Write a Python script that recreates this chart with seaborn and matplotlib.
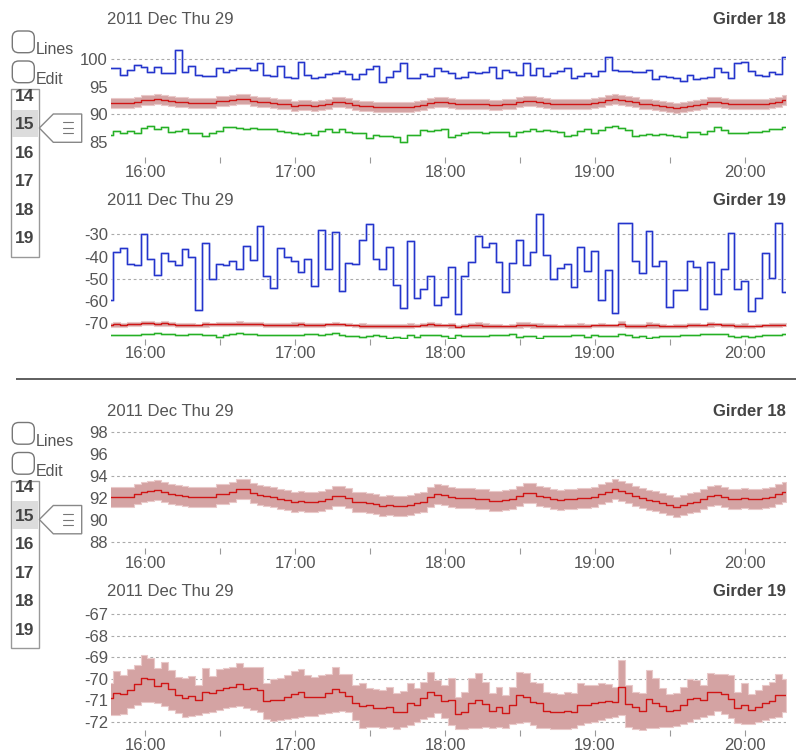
import numpy as np
import pandas as pd
import matplotlib
matplotlib.use("Agg")
import matplotlib.pyplot as plt
import matplotlib.patheffects as pe
from matplotlib.patches import FancyBboxPatch, Rectangle, Polygon
import seaborn as sns

# ---------------------------------------------------------------- data
# readings are sampled on a regular grid (hour of day as a float)
FIRST_STEP_HOUR = 15.7433
STEP_HOURS = 0.0455
X_MIN, X_MAX = 15.7733, 20.2733

DATE_LABEL = "2011 Dec Thu 29"
HOUR_TICKS = [16, 17, 18, 19, 20]
HOUR_LABELS = ["16:00", "17:00", "18:00", "19:00", "20:00"]
HALF_HOUR_TICKS = [16.5, 17.5, 18.5, 19.5]

G18_BLUE = [98.3, 98.3, 97.1, 98.0, 99.0, 98.6, 97.7, 98.6, 97.5, 97.4,
            101.6, 97.6, 98.7, 97.1, 96.9, 96.9, 98.3, 97.7, 98.0, 98.3,
            98.3, 98.1, 99.2, 97.1, 96.9, 98.7, 96.7, 96.6, 99.4, 97.1,
            96.5, 96.7, 97.3, 97.5, 97.9, 97.3, 96.4, 97.3, 98.2, 98.8,
            95.9, 96.7, 97.8, 99.3, 96.5, 96.5, 97.3, 97.0, 98.3, 97.9,
            97.5, 96.6, 96.8, 97.7, 97.4, 97.7, 98.6, 96.6, 98.0, 97.7,
            97.1, 99.2, 97.1, 98.3, 97.0, 97.5, 97.8, 98.4, 96.6, 96.9,
            97.4, 96.9, 97.8, 100.4, 98.0, 97.9, 97.8, 97.7, 97.6, 98.0,
            96.3, 97.0, 96.8, 96.5, 96.1, 97.1, 96.3, 96.5, 96.8, 98.3,
            97.7, 96.6, 99.3, 99.4, 97.8, 97.1, 96.9, 97.6, 97.3, 100.4]

G18_GREEN = [86.27, 87.05, 86.57, 86.99, 86.69, 87.47, 87.95, 87.29, 87.65, 86.87,
             87.05, 87.29, 86.69, 86.57, 86.08, 86.57, 86.99, 87.65, 87.70, 87.50,
             87.41, 87.47, 87.29, 87.35, 87.29, 87.05, 86.75, 86.57, 86.39, 86.57,
             86.20, 86.99, 87.29, 86.87, 87.29, 86.75, 86.57, 86.57, 85.78, 86.27,
             86.08, 86.14, 85.96, 85.06, 86.27, 86.27, 87.17, 87.05, 87.17, 87.35,
             85.96, 86.27, 86.69, 86.87, 86.87, 86.69, 86.87, 86.87, 86.87, 86.08,
             86.87, 87.05, 87.29, 86.99, 87.17, 86.99, 86.75, 86.14, 86.27, 86.99,
             87.35, 86.57, 87.17, 87.65, 87.90, 87.47, 87.17, 86.08, 86.27, 86.39,
             86.27, 86.45, 86.27, 86.14, 85.96, 86.75, 86.75, 86.39, 87.05, 87.65,
             87.17, 86.69, 86.69, 86.57, 86.75, 86.87, 86.99, 87.41, 87.29, 87.77]

G18_RED = [92.09, 92.09, 92.09, 92.09, 92.30, 92.55, 92.64, 92.70, 92.55, 92.33,
           92.24, 92.15, 92.09, 92.03, 92.09, 92.09, 92.33, 92.33, 92.55, 92.76,
           92.76, 92.39, 92.24, 92.18, 92.03, 91.88, 91.79, 91.58, 91.67, 91.64,
           91.58, 91.73, 91.85, 92.15, 92.18, 92.00, 91.64, 91.58, 91.48, 91.39,
           91.24, 91.33, 91.24, 91.24, 91.33, 91.55, 91.64, 92.09, 92.30, 92.24,
           92.03, 91.94, 91.94, 91.94, 91.91, 91.88, 91.70, 91.70, 91.79, 91.85,
           92.18, 92.39, 92.39, 92.15, 92.03, 91.88, 91.79, 91.85, 91.88, 91.94,
           91.94, 92.03, 92.30, 92.55, 92.76, 92.61, 92.39, 92.15, 91.94, 91.79,
           91.70, 91.48, 91.33, 91.18, 91.33, 91.55, 91.64, 91.85, 92.18, 92.24,
           92.09, 91.85, 91.88, 91.94, 91.91, 91.91, 91.94, 92.03, 92.30, 92.55]
G18_SPREAD = 0.9

G19_BLUE = [-59.8, -37.9, -36.1, -43.2, -43.6, -30.0, -41.0, -48.2, -38.6, -41.8,
            -44.0, -36.4, -40.2, -64.0, -34.0, -50.2, -43.2, -44.0, -42.0, -45.6,
            -35.3, -41.7, -26.0, -48.6, -54.4, -36.0, -40.0, -42.1, -47.0, -41.0,
            -53.2, -28.0, -45.5, -28.8, -55.6, -43.0, -43.2, -32.6, -25.5, -41.0,
            -45.6, -35.6, -52.7, -63.3, -32.9, -58.6, -54.7, -48.6, -61.7, -58.3,
            -44.7, -65.9, -48.6, -42.3, -30.6, -35.5, -33.8, -42.6, -55.8, -43.0,
            -32.6, -43.6, -38.0, -20.6, -39.4, -50.2, -45.2, -43.2, -53.8, -35.6,
            -46.4, -37.7, -59.4, -46.1, -65.5, -24.7, -25.0, -41.8, -47.4, -28.5,
            -44.4, -42.0, -63.0, -55.2, -55.2, -42.1, -44.7, -63.5, -42.3, -56.8,
            -45.6, -29.2, -54.5, -51.0, -64.8, -58.5, -38.2, -49.8, -25.0, -56.2]

G19_GREEN = [-75.28, -75.28, -75.28, -75.28, -75.58, -75.13, -74.83, -74.38, -74.83, -75.13,
             -75.58, -75.28, -74.98, -75.13, -75.28, -75.58, -76.34, -75.58, -75.13, -74.53,
             -74.83, -75.13, -75.28, -75.58, -75.58, -75.43, -75.43, -75.28, -75.28, -75.13,
             -75.13, -75.28, -74.98, -74.38, -75.58, -76.04, -75.74, -76.34, -76.04, -75.58,
             -76.04, -76.64, -76.34, -76.64, -75.58, -76.34, -75.58, -75.28, -75.58, -75.74,
             -76.64, -75.58, -75.89, -75.89, -75.89, -75.74, -75.58, -75.58, -75.43, -75.13,
             -76.34, -76.04, -75.74, -76.64, -76.04, -75.89, -75.74, -75.74, -75.58, -75.58,
             -76.34, -75.28, -76.04, -75.74, -76.04, -75.13, -75.58, -76.34, -76.04, -76.79,
             -76.34, -76.04, -75.89, -75.74, -75.58, -75.43, -75.28, -75.13, -75.13, -74.83,
             -75.13, -75.74, -76.34, -76.04, -76.34, -75.74, -75.58, -75.58, -75.43, -75.13]

G19_RED = [-70.91, -70.68, -70.71, -70.52, -70.26, -69.98, -70.03, -70.34, -70.21, -70.48,
           -70.76, -70.88, -70.80, -70.99, -70.60, -70.68, -70.52, -70.45, -70.40, -70.26,
           -70.48, -70.42, -70.52, -71.04, -71.01, -70.99, -70.84, -70.71, -70.63, -70.84,
           -70.84, -70.87, -70.68, -70.46, -70.63, -70.79, -71.11, -71.25, -71.22, -71.35,
           -71.35, -71.33, -71.53, -71.53, -71.15, -71.22, -70.91, -70.60, -70.76, -71.04,
           -70.99, -71.66, -71.57, -71.11, -71.01, -71.19, -71.50, -71.30, -71.58, -71.22,
           -70.76, -70.87, -71.07, -71.15, -71.49, -71.53, -71.57, -71.50, -71.57, -71.22,
           -71.22, -71.11, -71.07, -71.02, -71.07, -70.37, -71.19, -71.30, -71.50, -70.94,
           -71.11, -71.25, -71.49, -71.46, -71.22, -70.96, -70.91, -70.99, -70.63, -70.63,
           -70.73, -70.94, -71.38, -71.22, -71.46, -71.30, -71.11, -71.04, -70.76, -70.76]

G19_RED_HI = [-70.21, -69.64, -69.83, -69.56, -69.36, -68.89, -69.05, -69.52, -69.24, -69.59,
              -69.90, -69.98, -69.87, -70.29, -69.52, -69.87, -69.56, -69.52, -69.44, -69.28,
              -69.44, -69.44, -69.44, -70.21, -70.03, -69.98, -69.83, -69.62, -69.55, -69.83,
              -69.90, -69.83, -69.80, -69.44, -69.80, -69.78, -70.29, -70.18, -70.45, -70.49,
              -70.52, -70.40, -70.68, -70.57, -70.18, -70.45, -70.14, -69.67, -70.06, -70.29,
              -69.98, -70.84, -70.60, -69.95, -69.75, -70.14, -70.68, -70.37, -70.76, -70.37,
              -69.67, -69.72, -70.14, -70.21, -70.60, -70.68, -70.71, -70.63, -70.68, -70.21,
              -70.29, -70.29, -70.21, -70.25, -70.37, -69.13, -70.29, -70.63, -70.68, -69.59,
              -69.98, -70.45, -70.73, -70.68, -70.37, -70.03, -70.06, -70.29, -69.72, -69.78,
              -69.80, -69.83, -70.60, -70.18, -70.71, -70.52, -70.29, -70.14, -69.80, -70.01]

G19_RED_LO = [-71.69, -71.69, -71.66, -71.38, -71.22, -71.07, -71.07, -71.15, -71.25, -71.46,
              -71.61, -71.77, -71.74, -71.69, -71.61, -71.53, -71.46, -71.38, -71.30, -71.27,
              -71.38, -71.46, -71.53, -71.89, -71.97, -71.92, -71.89, -71.81, -71.77, -71.74,
              -71.74, -71.66, -71.58, -71.53, -71.50, -71.53, -71.92, -72.28, -72.23, -72.23,
              -72.28, -72.23, -72.34, -72.23, -72.16, -72.00, -71.88, -71.77, -71.61, -71.81,
              -72.16, -72.34, -72.34, -72.31, -72.28, -72.23, -72.28, -72.23, -72.31, -72.12,
              -72.08, -72.00, -72.16, -72.28, -72.31, -72.34, -72.34, -72.34, -72.28, -72.16,
              -72.08, -72.00, -71.92, -71.84, -71.77, -71.69, -72.23, -72.34, -72.39, -72.31,
              -72.28, -72.23, -72.23, -72.19, -72.12, -72.00, -71.88, -71.77, -71.69, -71.50,
              -71.66, -71.84, -72.08, -72.12, -72.12, -72.00, -71.92, -71.84, -71.77, -71.53]

LIST_ITEMS = ["14", "15", "16", "17", "18", "19"]
SELECTED_ITEM = "15"
TOGGLES = ["Lines", "Edit"]

# ---------------------------------------------------------------- style
sns.set_theme(style="white")
plt.rcParams["font.family"] = ["Liberation Sans", "DejaVu Sans"]

W, H = 796, 755
BLUE = "#2434cc"
GREEN = "#25b025"
RED = "#d01515"
BAND = "#d4a3a3"
BAND_EDGE = "#e9c9c9"
TEXT = "#555555"
GRID = "#aaaaaa"

fig = plt.figure(figsize=(W / 100, H / 100), dpi=100)
fig.patch.set_facecolor("white")


def step_frame(values):
    n = len(values)
    hours = FIRST_STEP_HOUR + STEP_HOURS * np.arange(n)
    hours = np.append(hours, X_MAX)
    vals = np.append(np.asarray(values, dtype=float), values[-1])
    return pd.DataFrame({"hour": hours, "value": vals})


def add_panel(top_px, bottom_px, ylim, yticks, grid_vals):
    ax = fig.add_axes([111 / W, 1 - bottom_px / H, 675 / W, (bottom_px - top_px) / H])
    ax.set_facecolor("none")
    for s in ax.spines.values():
        s.set_visible(False)
    for g in grid_vals:
        ax.axhline(g, color=GRID, lw=0.8, ls=(0, (2.5, 2.5)), zorder=0.5)
    return ax


def finish_panel(ax, ylim, yticks):
    ax.set_xlim(X_MIN, X_MAX)
    ax.set_ylim(*ylim)
    ax.set_xticks(HOUR_TICKS)
    ax.set_xticklabels(HOUR_LABELS)
    ax.set_xticks(HALF_HOUR_TICKS, minor=True)
    ax.set_yticks(yticks)
    ax.set_yticklabels([f"{v:g}" for v in yticks])
    ax.tick_params(axis="x", which="both", bottom=True, direction="out", length=4,
                   width=0.8, color="#999999", pad=1.5, labelsize=12, labelcolor=TEXT)
    ax.tick_params(axis="y", length=0, pad=2.2, labelsize=12, labelcolor=TEXT)
    ax.grid(False)
    ax.set_xlabel("")
    ax.set_ylabel("")


def draw_step(ax, values, color, lw, halo=None):
    df = step_frame(values)
    effects = None
    if halo is not None:
        effects = [pe.Stroke(linewidth=lw + 0.9, foreground=halo), pe.Normal()]
    sns.lineplot(data=df, x="hour", y="value", ax=ax, color=color, linewidth=lw,
                 drawstyle="steps-post", estimator=None, sort=False,
                 path_effects=effects, legend=False, zorder=3)


def draw_band(ax, lo, hi):
    df_lo = step_frame(lo)
    df_hi = step_frame(hi)
    ax.fill_between(df_lo["hour"], df_lo["value"], df_hi["value"], step="post",
                    facecolor=BAND, edgecolor=BAND_EDGE, linewidth=0.8, zorder=2)


g18_lo = [v - G18_SPREAD for v in G18_RED]
g18_hi = [v + G18_SPREAD for v in G18_RED]

# top half: all three series per girder
lim1, ticks1 = (82.28, 103.44), [100, 95, 90, 85]
ax1 = add_panel(40, 157, lim1, ticks1, [100, 90])
draw_step(ax1, G18_BLUE, BLUE, 0.9, halo="#b4bbee")
draw_band(ax1, g18_lo, g18_hi)
draw_step(ax1, G18_RED, RED, 1.0)
draw_step(ax1, G18_GREEN, GREEN, 0.9, halo="#bde8bd")
finish_panel(ax1, lim1, ticks1)

lim2, ticks2 = (-77.0, -19.0), [-30, -40, -50, -60, -70]
ax2 = add_panel(210, 338.5, lim2, ticks2, [-30, -50])
draw_step(ax2, G19_BLUE, BLUE, 0.9, halo="#b4bbee")
draw_band(ax2, G19_RED_LO, G19_RED_HI)
draw_step(ax2, G19_RED, RED, 1.0)
draw_step(ax2, G19_GREEN, GREEN, 0.9, halo="#bde8bd")
finish_panel(ax2, lim2, ticks2)

# bottom half: red series with its band only
lim3, ticks3 = (87.43, 98.6), [98, 96, 94, 92, 90, 88]
ax3 = add_panel(425, 548, lim3, ticks3, [98, 94, 92, 88])
draw_band(ax3, g18_lo, g18_hi)
draw_step(ax3, G18_RED, RED, 1.0)
finish_panel(ax3, lim3, ticks3)

lim4, ticks4 = (-72.39, -66.57), [-67, -68, -69, -70, -71, -72]
ax4 = add_panel(605, 730, lim4, ticks4, [-67, -68, -69, -70, -71, -72])
draw_band(ax4, G19_RED_LO, G19_RED_HI)
draw_step(ax4, G19_RED, RED, 1.0)
finish_panel(ax4, lim4, ticks4)

# ---------------------------------------------------------------- widgets & labels (pixel space)
ui = fig.add_axes([0, 0, 1, 1], zorder=10)
ui.set_xlim(0, W)
ui.set_ylim(H, 0)
ui.axis("off")
ui.patch.set_alpha(0)

for base, girder in [(24.5, "Girder 18"), (205, "Girder 19"), (415.5, "Girder 18"), (596.5, "Girder 19")]:
    ui.text(107, base, DATE_LABEL, fontsize=12, color=TEXT, va="baseline", ha="left")
    ui.text(786, base, girder, fontsize=12, color="#444444", fontweight="bold",
            va="baseline", ha="right")

ui.plot([16, W], [379, 379], color="#333333", lw=1.1, solid_capstyle="butt")


def draw_controls(dy):
    for i, label in enumerate(TOGGLES):
        y0 = 31 + 30 * i + dy
        box = FancyBboxPatch((12.3, y0), 22, 21.7,
                             boxstyle="round,pad=0,rounding_size=6.5",
                             facecolor="white", edgecolor="#777777", lw=1.0)
        ui.add_patch(box)
        ui.text(36, y0 + 23, label, fontsize=11.5, color=TEXT, va="baseline", ha="left")

    lst = Rectangle((10.7, 89.3 + dy), 28.6, 167.4, facecolor="white",
                    edgecolor="#999999", lw=1.0)
    ui.add_patch(lst)
    clip = Rectangle((11.2, 90.3 + dy), 27.6, 165.9, transform=ui.transData)
    for i, item in enumerate(LIST_ITEMS):
        base = 100.8 + 28.5 * i + dy
        if item == SELECTED_ITEM:
            hl = Rectangle((11.7, base - 19.3), 26.6, 27.3, facecolor="#dcdcdc",
                           edgecolor="none")
            ui.add_patch(hl)
        t = ui.text(25, base, item, fontsize=12.5, fontweight="bold", color="#444444",
                    ha="center", va="baseline")
        t.set_clip_path(clip)

    sel = LIST_ITEMS.index(SELECTED_ITEM)
    cy = 128 + 28.5 * (sel - 1) + dy
    arrow = Polygon([(39.3, cy), (53.3, cy - 14), (81.7, cy - 14), (81.7, cy + 14.3),
                     (53.3, cy + 14.3)], closed=True, facecolor="white",
                    edgecolor="#888888", lw=1.0)
    ui.add_patch(arrow)
    for off in (-5.7, 0, 5.0):
        ui.plot([63, 72.5], [cy + off, cy + off], color="#777777", lw=0.8)


draw_controls(0)
draw_controls(391.5)

fig.savefig("out.png", dpi=100, facecolor="white")
